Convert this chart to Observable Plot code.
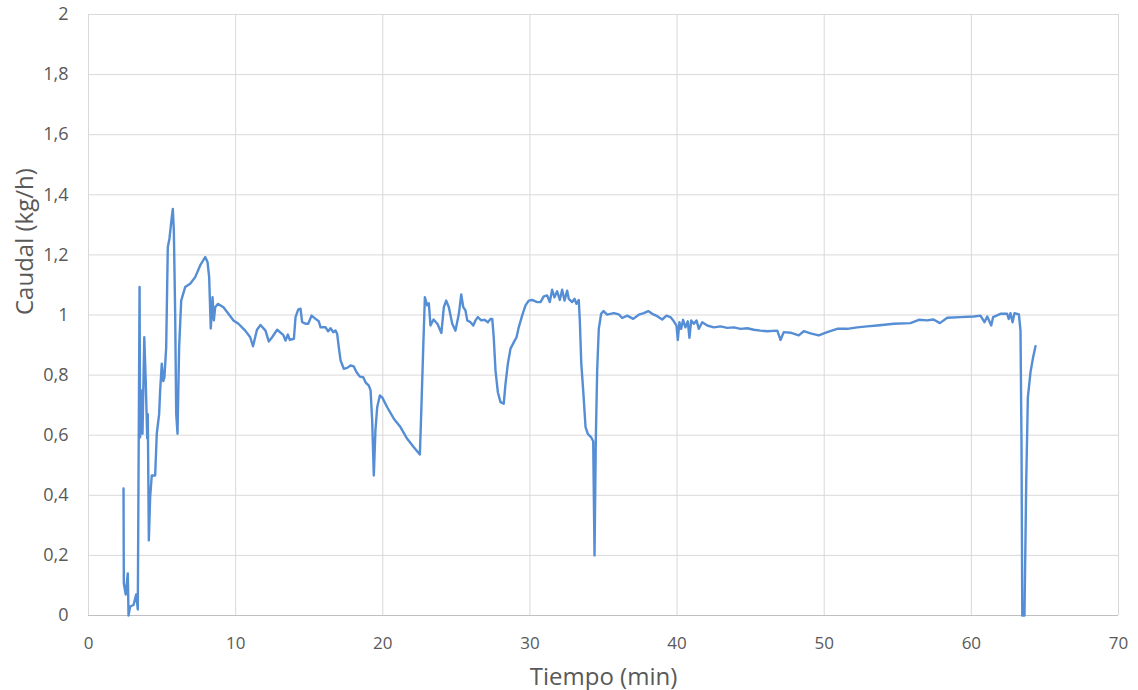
<!DOCTYPE html>
<html>
<head>
<meta charset="utf-8">
<script src="https://cdn.jsdelivr.net/npm/d3@7"></script>
<script src="https://cdn.jsdelivr.net/npm/@observablehq/plot@0.6"></script>
<style>
  html, body { margin: 0; padding: 0; background: #ffffff; }
  #chart { width: 1138px; height: 690px; }
</style>
</head>
<body>
<div id="chart"></div>
<script>
// Tiempo (min)
const tiempo = [
  2.38, 2.40, 2.53, 2.67, 2.72, 2.83, 3.06, 3.24, 3.35, 3.47, 3.51, 3.58, 3.67, 3.79, 3.89, 3.99,
  4.03, 4.10, 4.19, 4.30, 4.53, 4.64, 4.80, 4.87, 4.98, 5.08, 5.16, 5.28, 5.39, 5.50, 5.66, 5.73,
  5.80, 5.89, 5.96, 6.05, 6.16, 6.30, 6.57, 6.91, 7.25, 7.59, 7.93, 8.09, 8.20, 8.31, 8.43, 8.52,
  8.61, 8.79, 9.17, 9.51, 9.85, 10.19, 10.65, 10.99, 11.18, 11.45, 11.69, 12.03, 12.25, 12.48, 12.82, 13.23,
  13.39, 13.55, 13.68, 13.96, 14.07, 14.25, 14.41, 14.52, 14.75, 14.93, 15.16, 15.43, 15.65, 15.77, 16.11, 16.29,
  16.45, 16.63, 16.79, 16.90, 17.01, 17.13, 17.35, 17.58, 17.81, 18.03, 18.21, 18.44, 18.67, 18.83, 19.05, 19.17,
  19.28, 19.39, 19.50, 19.62, 19.80, 19.96, 20.30, 20.75, 21.20, 21.66, 22.11, 22.52, 22.61, 22.75, 22.86, 23.02,
  23.13, 23.24, 23.45, 23.72, 23.98, 24.15, 24.31, 24.49, 24.72, 24.94, 25.17, 25.33, 25.47, 25.62, 25.74, 25.96,
  26.15, 26.30, 26.46, 26.69, 26.91, 27.14, 27.32, 27.44, 27.54, 27.66, 27.82, 28.00, 28.22, 28.34, 28.50, 28.68,
  28.90, 29.09, 29.24, 29.47, 29.70, 29.92, 30.15, 30.49, 30.72, 30.94, 31.17, 31.35, 31.51, 31.67, 31.85, 32.03,
  32.19, 32.35, 32.53, 32.64, 32.87, 33.03, 33.16, 33.32, 33.39, 33.49, 33.62, 33.78, 33.93, 34.16, 34.30, 34.39,
  34.48, 34.57, 34.68, 34.84, 35.00, 35.25, 35.70, 36.04, 36.27, 36.61, 37.02, 37.40, 37.74, 38.04, 38.31, 38.65,
  38.99, 39.28, 39.55, 39.78, 39.96, 40.05, 40.16, 40.28, 40.41, 40.57, 40.73, 40.84, 40.96, 41.14, 41.32, 41.48,
  41.71, 42.05, 42.50, 42.95, 43.41, 43.86, 44.31, 44.77, 45.22, 45.67, 46.13, 46.81, 47.03, 47.25, 47.71, 48.27,
  48.61, 49.07, 49.63, 50.20, 50.88, 51.56, 52.24, 52.92, 53.60, 54.73, 55.86, 56.43, 57.00, 57.43, 57.86, 58.36,
  59.26, 60.17, 60.62, 60.89, 61.08, 61.35, 61.48, 61.98, 62.43, 62.54, 62.66, 62.80, 62.93, 63.23, 63.34, 63.41,
  63.46, 63.61, 63.73, 63.84, 64.02, 64.20, 64.36
];
// Caudal (kg/h)
const caudal = [
  0.423, 0.106, 0.070, 0.140, 0.000, 0.030, 0.035, 0.070, 0.020, 1.093, 0.593, 0.749, 0.605, 0.926, 0.780, 0.590,
  0.670, 0.250, 0.394, 0.466, 0.466, 0.605, 0.670, 0.749, 0.838, 0.780, 0.793, 0.893, 1.226, 1.254, 1.326, 1.353,
  1.281, 1.005, 0.672, 0.605, 0.893, 1.048, 1.093, 1.104, 1.126, 1.165, 1.193, 1.176, 1.126, 0.955, 1.059, 0.982,
  1.026, 1.037, 1.026, 1.004, 0.982, 0.971, 0.948, 0.926, 0.896, 0.951, 0.967, 0.948, 0.912, 0.926, 0.951, 0.934,
  0.915, 0.935, 0.917, 0.921, 0.993, 1.018, 1.021, 0.976, 0.971, 0.971, 0.998, 0.987, 0.979, 0.959, 0.959, 0.946,
  0.956, 0.943, 0.948, 0.937, 0.893, 0.849, 0.821, 0.824, 0.832, 0.829, 0.810, 0.795, 0.793, 0.776, 0.765, 0.749,
  0.649, 0.466, 0.616, 0.693, 0.732, 0.726, 0.693, 0.655, 0.627, 0.588, 0.560, 0.536, 0.671, 0.893, 1.059, 1.032,
  1.039, 0.965, 0.985, 0.970, 0.940, 1.026, 1.048, 1.026, 0.971, 0.948, 1.004, 1.068, 1.026, 1.015, 0.982, 0.976,
  0.965, 0.982, 0.993, 0.982, 0.984, 0.976, 0.987, 0.987, 0.926, 0.815, 0.743, 0.710, 0.705, 0.771, 0.838, 0.888,
  0.909, 0.926, 0.959, 0.998, 1.032, 1.048, 1.050, 1.043, 1.043, 1.062, 1.065, 1.043, 1.084, 1.059, 1.079, 1.050,
  1.084, 1.048, 1.081, 1.054, 1.043, 1.054, 1.037, 1.050, 0.982, 0.838, 0.749, 0.627, 0.605, 0.593, 0.580, 0.200,
  0.593, 0.815, 0.954, 1.004, 1.013, 1.001, 1.006, 1.002, 0.990, 0.998, 0.987, 1.001, 1.006, 1.013, 1.004, 0.996,
  0.985, 0.998, 0.993, 0.979, 0.965, 0.917, 0.976, 0.954, 0.984, 0.959, 0.979, 0.924, 0.982, 0.971, 0.982, 0.954,
  0.976, 0.965, 0.959, 0.962, 0.957, 0.959, 0.954, 0.956, 0.951, 0.948, 0.946, 0.948, 0.917, 0.943, 0.941, 0.932,
  0.946, 0.939, 0.932, 0.943, 0.954, 0.954, 0.959, 0.962, 0.965, 0.971, 0.973, 0.984, 0.982, 0.985, 0.973, 0.991,
  0.993, 0.995, 0.998, 0.976, 0.995, 0.965, 0.993, 1.004, 1.004, 0.987, 1.006, 0.976, 1.006, 1.002, 0.948, 0.560,
  0.000, 0.000, 0.449, 0.726, 0.810, 0.860, 0.896
];
const xTicks = [0, 10, 20, 30, 40, 50, 60, 70];
const yTicks = [0, 0.2, 0.4, 0.6, 0.8, 1, 1.2, 1.4, 1.6, 1.8, 2];
const xTitle = "Tiempo (min)";
const yTitle = "Caudal (kg/h)";

const data = tiempo.map((t, i) => ({t, v: caudal[i]}));
const fmt = d => String(d).replace(".", ",");
const textColor = "#595959";
const font = "'Open Sans', 'Noto Sans', sans-serif";

const chart = Plot.plot({
  width: 1138,
  height: 690,
  marginLeft: 88,
  marginRight: 20,
  marginTop: 14,
  marginBottom: 75,
  style: {fontFamily: font, background: "#ffffff", overflow: "visible"},
  x: {domain: [0, 70]},
  y: {domain: [0, 2]},
  marks: [
    Plot.gridY(yTicks, {stroke: "#d9d9d9", strokeOpacity: 1, strokeWidth: 1}),
    Plot.gridX(xTicks, {stroke: "#d9d9d9", strokeOpacity: 1, strokeWidth: 1}),
    Plot.ruleY([0], {stroke: "#bfbfbf", strokeWidth: 1}),
    Plot.axisY(yTicks, {tickSize: 0, tickPadding: 20, tickFormat: fmt, fontSize: 18, fill: textColor, label: null}),
    Plot.axisX(xTicks, {tickSize: 0, tickPadding: 21, tickFormat: fmt, fontSize: 17, fill: textColor, label: null}),
    Plot.text([xTitle], {frameAnchor: "bottom", dy: 62, lineAnchor: "middle", fontSize: 24, fill: textColor, text: d => d}),
    Plot.text([yTitle], {frameAnchor: "left", dx: -63, rotate: -90, lineAnchor: "middle", fontSize: 24, fill: textColor, text: d => d}),
    Plot.line(data, {x: "t", y: "v", stroke: "#558ED5", strokeWidth: 2.4, strokeLinejoin: "round", curve: "linear"})
  ]
});
document.getElementById("chart").appendChild(chart);
</script>
</body>
</html>
